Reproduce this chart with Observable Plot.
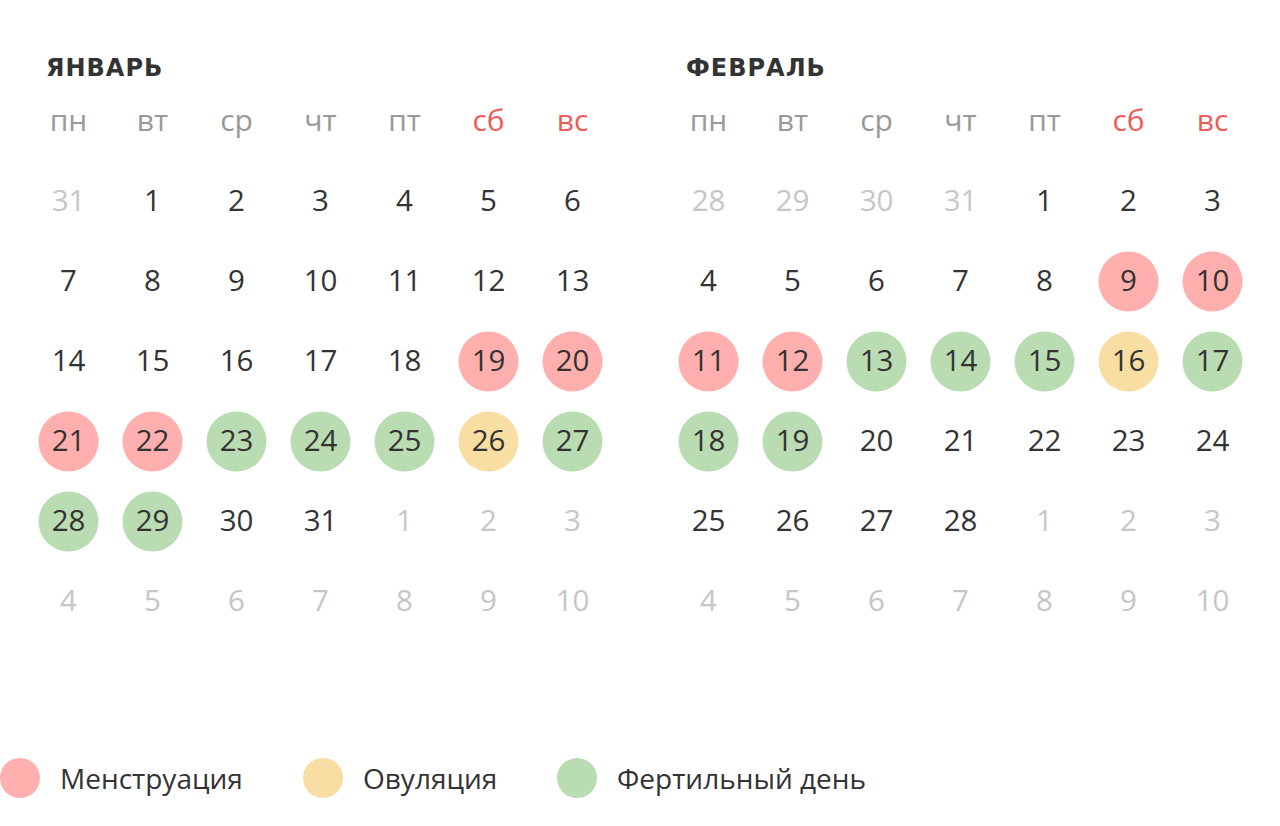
<!DOCTYPE html>
<html>
<head>
<meta charset="utf-8">
<script src="https://cdn.jsdelivr.net/npm/d3@7"></script>
<script src="https://cdn.jsdelivr.net/npm/@observablehq/plot@0.6"></script>
<style>
  html, body { margin: 0; padding: 0; background: #fff; }
  #page { width: 1280px; height: 826px; position: relative; overflow: hidden; }
  #months { display: flex; }
  .month { position: relative; width: 640px; height: 660px; }
  .month h2 {
    position: absolute; left: 46px; top: 50px; margin: 0;
    font-family: "DejaVu Sans", sans-serif; font-weight: 900; font-size: 24px;
    line-height: 36px; color: #333; letter-spacing: 1px;
  }
  #legend { position: absolute; top: 758px; left: 0; height: 40px; width: 1280px;
    font-family: "Open Sans", sans-serif; font-size: 28px; color: #333; }
  .item { position: absolute; top: 0; height: 40px; display: flex; align-items: center; }
  .sw { width: 40px; height: 40px; border-radius: 50%; margin-right: 20px; }
</style>
</head>
<body>
<div id="page">
  <div id="months"></div>
  <div id="legend"></div>
</div>
<script>
// ---- data ----
const weekdays = ["пн", "вт", "ср", "чт", "пт", "сб", "вс"];
const weekendDays = ["сб", "вс"];
const monthNames = ["ЯНВАРЬ", "ФЕВРАЛЬ"];

const janDays = [31, 1, 2, 3, 4, 5, 6,
  7, 8, 9, 10, 11, 12, 13,
  14, 15, 16, 17, 18, 19, 20,
  21, 22, 23, 24, 25, 26, 27,
  28, 29, 30, 31, 1, 2, 3,
  4, 5, 6, 7, 8, 9, 10];
const febDays = [28, 29, 30, 31, 1, 2, 3,
  4, 5, 6, 7, 8, 9, 10,
  11, 12, 13, 14, 15, 16, 17,
  18, 19, 20, 21, 22, 23, 24,
  25, 26, 27, 28, 1, 2, 3,
  4, 5, 6, 7, 8, 9, 10];

const janMenstruation = [19, 20, 21, 22];
const janOvulation = [26];
const janFertile = [23, 24, 25, 27, 28, 29];
const febMenstruation = [9, 10, 11, 12];
const febOvulation = [16];
const febFertile = [13, 14, 15, 17, 18, 19];

const phaseNames = ["Менструация", "Овуляция", "Фертильный день"];
const phaseColors = ["#ffb0ae", "#f8dea2", "#badcb2"];

// ---- build tables ----
function buildMonth(days, menstr, ovul, fert) {
  const firstIdx = days.indexOf(1);
  const endIdx = days.indexOf(1, firstIdx + 1);
  return days.map((d, i) => {
    const inMonth = i >= firstIdx && i < endIdx;
    let phase = null;
    if (inMonth) {
      if (menstr.includes(d)) phase = phaseNames[0];
      else if (ovul.includes(d)) phase = phaseNames[1];
      else if (fert.includes(d)) phase = phaseNames[2];
    }
    return { day: d, wd: weekdays[i % 7], row: Math.floor(i / 7), inMonth, phase };
  });
}

const months = [
  buildMonth(janDays, janMenstruation, janOvulation, janFertile),
  buildMonth(febDays, febMenstruation, febOvulation, febFertile)
];

const rowDomain = [-1, 0, 1, 2, 3, 4, 5];
const header = weekdays.map(w => ({ wd: w, row: -1, weekend: weekendDays.includes(w) }));

const container = document.getElementById("months");
months.forEach((data, mi) => {
  const div = document.createElement("div");
  div.className = "month";
  const h = document.createElement("h2");
  h.textContent = monthNames[mi];
  div.appendChild(h);
  const chart = Plot.plot({
    width: 640,
    height: 660,
    marginLeft: 26,
    marginRight: 26,
    marginTop: 81,
    marginBottom: 19,
    style: { fontFamily: "'Open Sans', sans-serif", background: "transparent" },
    x: { type: "band", domain: weekdays, padding: 0, axis: null },
    y: { type: "band", domain: rowDomain, padding: 0, axis: null },
    color: { domain: phaseNames, range: phaseColors, legend: false },
    marks: [
      Plot.dot(data.filter(d => d.phase), { x: "wd", y: "row", r: 30, fill: "phase", stroke: null }),
      Plot.text(header, { x: "wd", y: "row", text: "wd", fontSize: 30,
        fill: d => d.weekend ? "#ef5b5b" : "#999999" }),
      Plot.text(data, { x: "wd", y: "row", text: "day", fontSize: 29.5,
        fill: d => d.inMonth ? "#333333" : "#c6c6c6" })
    ]
  });
  div.appendChild(chart);
  container.appendChild(div);
});

// ---- legend ----
const legendLeft = [0, 303, 557];
const legend = document.getElementById("legend");
phaseNames.forEach((name, i) => {
  const it = document.createElement("div");
  it.className = "item";
  it.style.left = legendLeft[i] + "px";
  it.innerHTML = `<div class="sw" style="background:${phaseColors[i]}"></div><span>${name}</span>`;
  legend.appendChild(it);
});
</script>
</body>
</html>
